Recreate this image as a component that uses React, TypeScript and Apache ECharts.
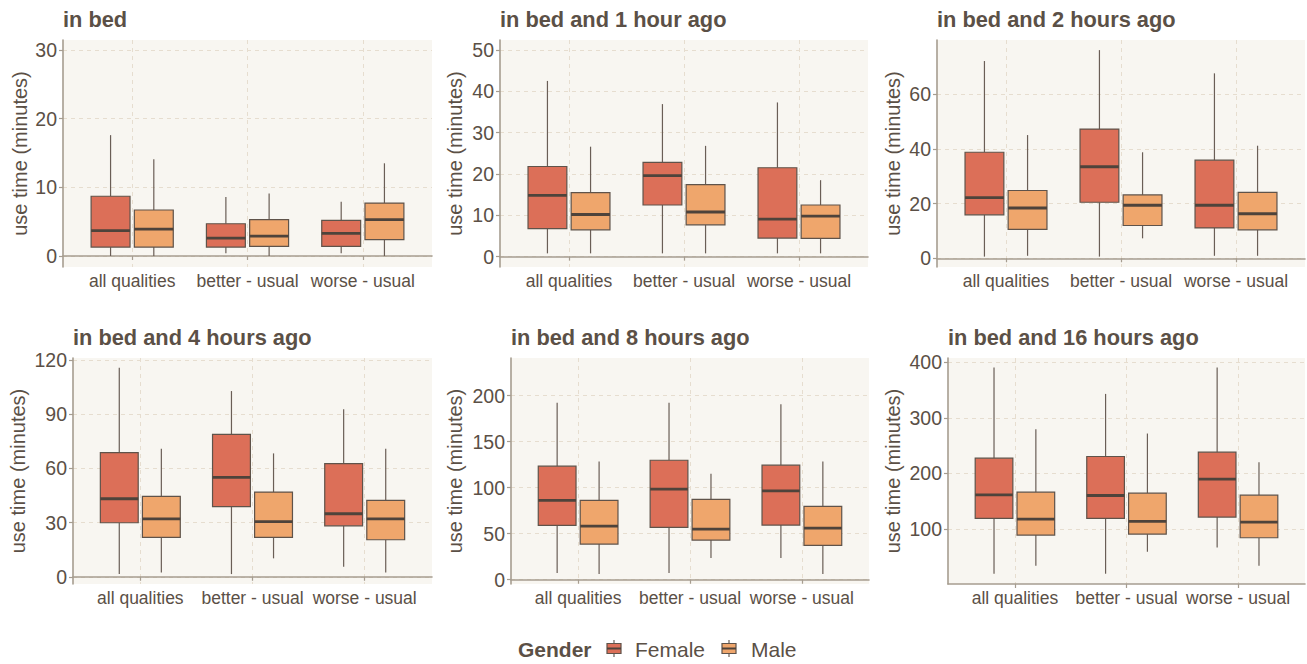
import React, { useEffect, useRef } from "react";
import * as echarts from "echarts";

const categories = ["all qualities", "better - usual", "worse - usual"];
const panelTitles = [
  "in bed",
  "in bed and 1 hour ago",
  "in bed and 2 hours ago",
  "in bed and 4 hours ago",
  "in bed and 8 hours ago",
  "in bed and 16 hours ago",
];
const genders = ["Female", "Male"];
const yTicks = [
  [0, 10, 20, 30],
  [0, 10, 20, 30, 40, 50],
  [0, 20, 40, 60],
  [0, 30, 60, 90, 120],
  [0, 50, 100, 150, 200],
  [100, 200, 300, 400],
];
const yRanges = [
  [-1.6, 31.45],
  [-2.5, 52.4],
  [-3.2, 79.9],
  [-4.0, 121.1],
  [-4.7, 240.9],
  [0.5, 407.7],
];

// [min, Q1, median, Q3, max] per category
const femaleInBed = [[0.0, 1.3, 3.7, 8.7, 17.6], [0.4, 1.3, 2.6, 4.7, 8.6], [0.4, 1.4, 3.3, 5.2, 7.9]];
const maleInBed = [[0.0, 1.3, 3.9, 6.7, 14.1], [0.0, 1.4, 2.9, 5.3, 9.1], [0.0, 2.4, 5.3, 7.7, 13.5]];
const female1h = [[0.8, 6.8, 14.8, 21.8, 42.5], [0.8, 12.5, 19.6, 22.8, 36.9], [0.8, 4.5, 9.1, 21.5, 37.3]];
const male1h = [[0.8, 6.5, 10.2, 15.5, 26.6], [0.8, 7.7, 10.8, 17.4, 26.8], [0.8, 4.4, 9.8, 12.5, 18.5]];
const female2h = [[0.6, 15.9, 22.2, 38.8, 72.2], [0.6, 20.5, 33.5, 47.3, 76.2], [0.9, 11.1, 19.4, 35.9, 67.7]];
const male2h = [[0.9, 10.6, 18.4, 24.8, 45.1], [7.3, 12.0, 19.4, 23.2, 38.8], [0.9, 10.4, 16.3, 24.1, 41.2]];
const female4h = [[1.5, 29.9, 43.2, 68.7, 115.7], [1.5, 38.8, 55.0, 78.8, 102.8], [5.5, 28.2, 34.9, 62.6, 92.7]];
const male4h = [[2.4, 21.8, 32.1, 44.5, 70.9], [10.2, 21.8, 30.5, 46.9, 68.3], [2.4, 20.5, 32.1, 42.3, 70.9]];
const female8h = [[7.2, 59.0, 86.1, 123.3, 192.4], [7.2, 56.8, 98.4, 129.8, 192.4], [23.5, 59.3, 96.6, 124.4, 190.6]];
const male8h = [[6.1, 38.7, 58.2, 86.1, 128.4], [23.5, 43.0, 55.0, 87.2, 115.0], [6.1, 37.3, 56.1, 79.6, 128.4]];
const female16h = [[19, 118.6, 161.2, 227.2, 390.4], [19, 118.6, 160, 230.2, 343], [66.4, 121, 189.4, 238, 390.4]];
const male16h = [[33.4, 88.6, 117.4, 166, 279.4], [58.6, 90.4, 113.2, 164.2, 271.6], [33.4, 83.8, 112, 160.6, 220]];

const femaleStats = [femaleInBed, female1h, female2h, female4h, female8h, female16h];
const maleStats = [maleInBed, male1h, male2h, male4h, male8h, male16h];

// layout (pixels)
const panelLayout = [
  { left: 63, top: 40, width: 369, height: 227, nameGap: 33 },
  { left: 500, top: 40, width: 368, height: 227, nameGap: 35 },
  { left: 937, top: 40, width: 368, height: 227, nameGap: 34 },
  { left: 73, top: 358, width: 359, height: 226, nameGap: 45 },
  { left: 511, top: 358, width: 358, height: 226, nameGap: 46 },
  { left: 948, top: 358, width: 357, height: 226, nameGap: 45 },
];

const FONT = "'Liberation Sans', Arial, Helvetica, sans-serif";
const TEXT = "#5b5046";
const AXIS = "#a69d90";
const GRIDLINE = "#e6ddcf";
const PANEL_BG = "#f8f6f1";
const BORDER = "#5f534a";
const MEDIAN = "#4e433b";
const WHISKER = "#6a5e56";
const COLORS = { Female: "#dc6f58", Male: "#efa66c" };

const DODGE = 0.1875;
const BOX_W = 0.3375;

// x slots every 0.2 units from 0.4 to 3.6 (categories at 1, 2, 3)
const slotCount = 17;
const isCatSlot = (i: number) => i >= 3 && (i - 3) % 5 === 0;
const slotLabels = Array.from({ length: slotCount }, (_, i) =>
  isCatSlot(i) ? categories[(i - 3) / 5] : ""
);

function makeRender(gender: string) {
  const dodge = gender === "Female" ? -DODGE : DODGE;
  const fill = (COLORS as any)[gender];
  return (params: any, api: any) => {
    const x = api.value(0) + dodge;
    const lo = api.coord([x, api.value(1)]);
    const q1 = api.coord([x, api.value(2)]);
    const med = api.coord([x, api.value(3)]);
    const q3 = api.coord([x, api.value(4)]);
    const hi = api.coord([x, api.value(5)]);
    const half = api.size([BOX_W, 0])[0] / 2;
    const cx = q1[0];
    return {
      type: "group",
      children: [
        { type: "line", shape: { x1: cx, y1: q3[1], x2: cx, y2: hi[1] }, style: { stroke: WHISKER, lineWidth: 1.2 } },
        { type: "line", shape: { x1: cx, y1: q1[1], x2: cx, y2: lo[1] }, style: { stroke: WHISKER, lineWidth: 1.2 } },
        {
          type: "rect",
          shape: { x: cx - half, y: q3[1], width: half * 2, height: q1[1] - q3[1] },
          style: { fill, stroke: BORDER, lineWidth: 1.2 },
        },
        { type: "line", shape: { x1: cx - half, y1: med[1], x2: cx + half, y2: med[1] }, style: { stroke: MEDIAN, lineWidth: 2.8 } },
      ],
    };
  };
}

function legendIcon(x: number, color: string) {
  const cy = 648.5;
  return [
    { type: "line", shape: { x1: x + 7, y1: cy - 8.5, x2: x + 7, y2: cy + 8.5 }, style: { stroke: WHISKER, lineWidth: 1.2 } },
    { type: "rect", shape: { x, y: cy - 5, width: 14, height: 10 }, style: { fill: color, stroke: BORDER, lineWidth: 1.2 } },
    { type: "line", shape: { x1: x, y1: cy, x2: x + 14, y2: cy }, style: { stroke: MEDIAN, lineWidth: 2 } },
  ];
}

export default function App() {
  const ref = useRef<HTMLDivElement>(null);
  useEffect(() => {
    if (!ref.current) return;
    const chart = echarts.init(ref.current, undefined, { renderer: "svg" });

    const grid: any[] = [];
    const xAxis: any[] = [];
    const yAxis: any[] = [];
    const series: any[] = [];
    const graphic: any[] = [];

    panelLayout.forEach((p, k) => {
      grid.push({
        left: p.left,
        top: p.top,
        width: p.width,
        height: p.height,
        show: true,
        backgroundColor: PANEL_BG,
        borderWidth: 0,
        containLabel: false,
      });
      xAxis.push({
        type: "category",
        gridIndex: k,
        data: slotLabels,
        boundaryGap: false,
        axisLine: { show: true, lineStyle: { color: AXIS, width: 1.6 } },
        axisTick: { show: true, length: 4, interval: (i: number) => isCatSlot(i), lineStyle: { color: AXIS, width: 1.2 } },
        axisLabel: {
          interval: (i: number) => isCatSlot(i),
          color: TEXT,
          fontSize: 17.5,
          fontFamily: FONT,
          margin: 5,
        },
        splitLine: {
          show: true,
          interval: (i: number) => isCatSlot(i),
          lineStyle: { color: GRIDLINE, type: [4, 4], width: 1 },
        },
      });
      xAxis.push({
        type: "value",
        gridIndex: k,
        min: 0.4,
        max: 3.6,
        show: false,
        splitLine: { show: false },
      });
      yAxis.push({
        type: "value",
        gridIndex: k,
        min: yRanges[k][0],
        max: yRanges[k][1],
        name: "use time (minutes)",
        nameLocation: "middle",
        nameGap: p.nameGap,
        nameTextStyle: { color: TEXT, fontSize: 20, fontFamily: FONT },
        axisLine: { show: true, lineStyle: { color: AXIS, width: 1.6 } },
        axisTick: { show: true, length: 4, customValues: yTicks[k], lineStyle: { color: AXIS, width: 1.2 } },
        axisLabel: {
          customValues: yTicks[k],
          color: TEXT,
          fontSize: 19.5,
          fontFamily: FONT,
          margin: 6,
        },
        splitLine: { show: true, lineStyle: { color: GRIDLINE, type: [4, 4], width: 1 } },
      });
      genders.forEach((g) => {
        const stats = g === "Female" ? femaleStats[k] : maleStats[k];
        series.push({
          type: "custom",
          name: g,
          xAxisIndex: k * 2 + 1,
          yAxisIndex: k,
          renderItem: makeRender(g),
          encode: { x: 0, y: [1, 2, 3, 4, 5] },
          itemStyle: { color: (COLORS as any)[g] },
          data: stats.map((s, i) => [i + 1, ...s]),
          clip: true,
        });
      });
      graphic.push({
        type: "text",
        x: p.left,
        y: k < 3 ? 19.5 : 337.5,
        style: {
          text: panelTitles[k],
          fill: TEXT,
          font: `bold 21.8px ${FONT}`,
          verticalAlign: "middle",
          align: "left",
        },
      });
    });

    // legend
    graphic.push({
      type: "text",
      x: 518,
      y: 649,
      style: { text: "Gender", fill: TEXT, font: `bold 21px ${FONT}`, verticalAlign: "middle", align: "left" },
    });
    graphic.push(...legendIcon(607, COLORS.Female));
    graphic.push({
      type: "text",
      x: 635,
      y: 649,
      style: { text: "Female", fill: TEXT, font: `21px ${FONT}`, verticalAlign: "middle", align: "left" },
    });
    graphic.push(...legendIcon(722, COLORS.Male));
    graphic.push({
      type: "text",
      x: 751,
      y: 649,
      style: { text: "Male", fill: TEXT, font: `21px ${FONT}`, verticalAlign: "middle", align: "left" },
    });

    chart.setOption({
      animation: false,
      backgroundColor: "#ffffff",
      grid,
      xAxis,
      yAxis,
      series,
      graphic,
    });
    return () => chart.dispose();
  }, []);
  return (
    <div
      ref={ref}
      style={{ position: "fixed", left: 0, top: 0, width: 1307, height: 664, background: "#fff" }}
    />
  );
}
